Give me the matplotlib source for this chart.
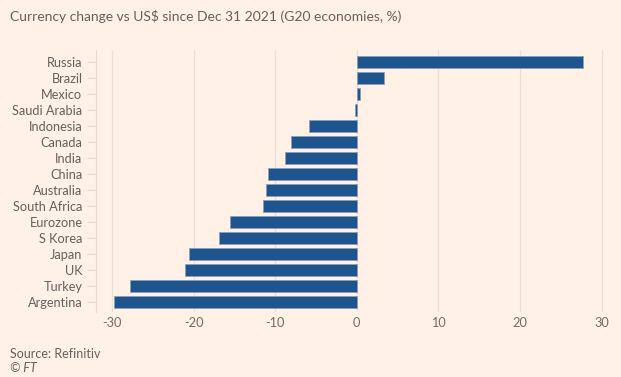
import numpy as np
from matplotlib import pyplot as plt

countries = ['Russia', 'Brazil', 'Mexico', 'Saudi Arabia', 'Indonesia', 'Canada',
             'India', 'China', 'Australia', 'South Africa', 'Eurozone', 'S Korea',
             'Japan', 'UK', 'Turkey', 'Argentina']
change = [27.7, 3.3, 0.4, -0.2, -5.8, -8.0, -8.8, -10.9, -11.1, -11.5,
          -15.5, -16.9, -20.5, -21.0, -27.8, -29.8]
xticks = [-30, -20, -10, 0, 10, 20, 30]

bg = '#FFF1E5'
txt = '#66605C'

plt.rcParams['font.family'] = ['Lato', 'DejaVu Sans']

fig = plt.figure(figsize=(6.21, 3.77), dpi=100, facecolor=bg)
ax = fig.add_axes([0.154, 0.173, 0.841, 0.694], facecolor=bg)

y = np.arange(len(countries))
ax.barh(y, change, height=0.79, color='#1F558E', edgecolor='#8a9fb5', linewidth=0.5, zorder=3)

ax.set_ylim(len(countries) - 0.4, -0.75)
ax.set_xlim(-32, 32)
ax.set_yticks(y)
ax.set_yticklabels(countries)
ax.set_xticks(xticks)
ax.set_xticklabels([str(t) for t in xticks])

ax.grid(axis='x', color='#EBE0D6', linewidth=0.9, zorder=0)
for s in ['top', 'right', 'bottom']:
    ax.spines[s].set_visible(False)
ax.spines['left'].set_color('#E6D9CE')
ax.tick_params(axis='y', length=6.5, color='#E6D9CE', labelsize=9.2, labelcolor=txt, pad=3)
ax.tick_params(axis='x', length=0, labelsize=9.2, labelcolor='#736b66', pad=4)

fig.text(0.016, 0.955, 'Currency change vs US$ since Dec 31 2021 (G20 economies, %)',
         fontsize=10, color=txt, va='center')
fig.text(0.016, 0.062, 'Source: Refinitiv', fontsize=9, color=txt, va='center')
fig.text(0.016, 0.024, '© FT', fontsize=9, color=txt, va='center', style='italic')

fig.savefig('out.png', dpi=100, facecolor=bg)
